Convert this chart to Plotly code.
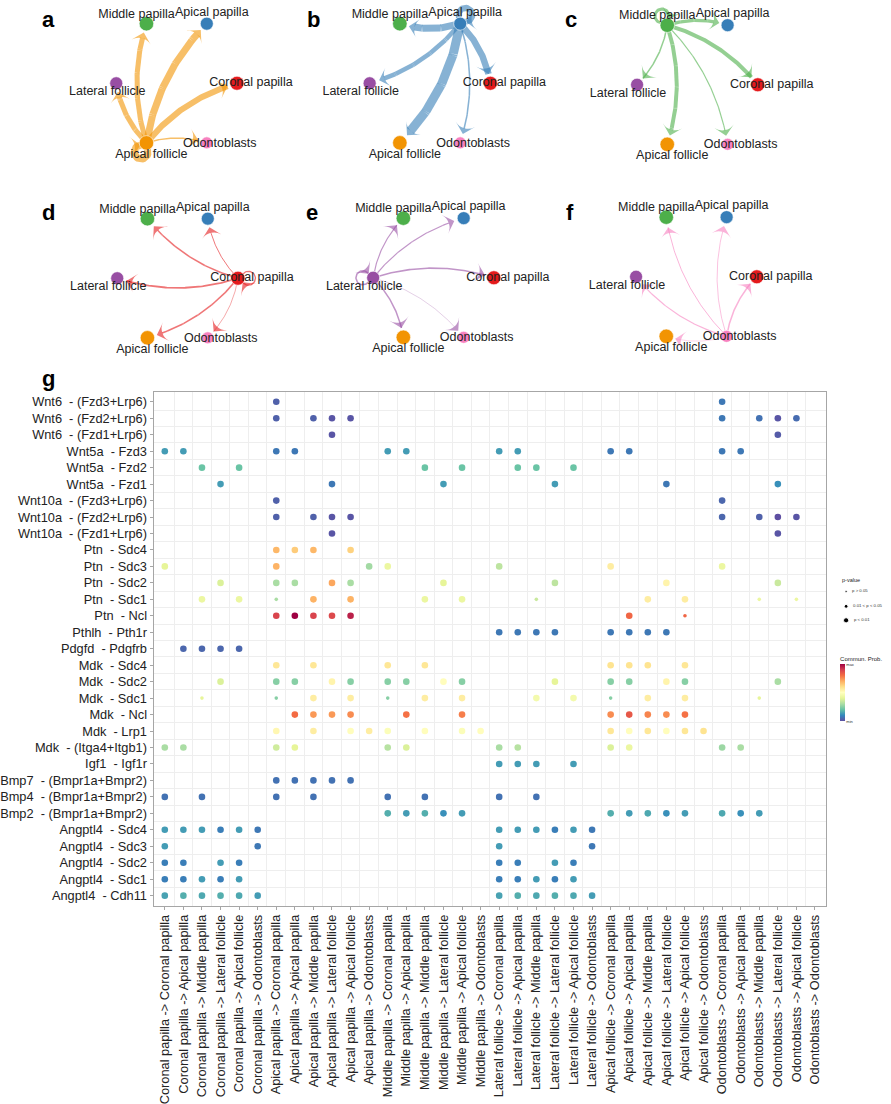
import math
import plotly.graph_objects as go

W, H = 891, 1104

# ---------------- data ----------------
cell_types = ["Coronal papilla", "Apical papilla", "Middle papilla",
              "Lateral follicle", "Apical follicle", "Odontoblasts"]

# panels a-f: source cell type and relative communication strength to each target (order = cell_types)
panel_sources = ["Apical follicle", "Apical papilla", "Middle papilla",
                 "Coronal papilla", "Lateral follicle", "Odontoblasts"]
strength_a = [0.67, 0.78, 0.56, 0.56, 0.78, 0.15]
strength_b = [0.72, 0.67, 0.78, 0.50, 1.00, 0.17]
strength_c = [0.44, 0.37, 0.33, 0.17, 0.44, 0.13]
strength_d = [0.15, 0.11, 0.17, 0.20, 0.17, 0.07]
strength_e = [0.17, 0.13, 0.13, 0.17, 0.17, 0.05]
strength_f = [0.17, 0.09, 0.11, 0.13, 0.06, 0.0]
panel_strengths = [strength_a, strength_b, strength_c, strength_d, strength_e, strength_f]

# panel g: ligand-receptor pairs (rows, top to bottom)
lr_pairs = ["Wnt6  - (Fzd3+Lrp6)", "Wnt6  - (Fzd2+Lrp6)", "Wnt6  - (Fzd1+Lrp6)",
            "Wnt5a  - Fzd3", "Wnt5a  - Fzd2", "Wnt5a  - Fzd1",
            "Wnt10a  - (Fzd3+Lrp6)", "Wnt10a  - (Fzd2+Lrp6)", "Wnt10a  - (Fzd1+Lrp6)",
            "Ptn  - Sdc4", "Ptn  - Sdc3", "Ptn  - Sdc2", "Ptn  - Sdc1", "Ptn  - Ncl",
            "Pthlh  - Pth1r", "Pdgfd  - Pdgfrb",
            "Mdk  - Sdc4", "Mdk  - Sdc2", "Mdk  - Sdc1", "Mdk  - Ncl", "Mdk  - Lrp1",
            "Mdk  - (Itga4+Itgb1)", "Igf1  - Igf1r",
            "Bmp7  - (Bmpr1a+Bmpr2)", "Bmp4  - (Bmpr1a+Bmpr2)", "Bmp2  - (Bmpr1a+Bmpr2)",
            "Angptl4  - Sdc4", "Angptl4  - Sdc3", "Angptl4  - Sdc2", "Angptl4  - Sdc1",
            "Angptl4  - Cdh11"]

# columns: source -> target pairs
pair_labels = [f"{s} -> {t}" for s in cell_types for t in cell_types]

# per row: column indices with a significant interaction and the communication probability (0-1 scaled)
dot_cols = [
    [6, 30],
    [6, 8, 9, 10, 30, 32, 33, 34],
    [9, 33],
    [0, 1, 6, 7, 12, 13, 18, 19, 24, 25, 30, 31],
    [2, 4, 14, 16, 19, 20, 22],
    [3, 9, 15, 21, 27, 33],
    [6, 30],
    [6, 8, 9, 10, 30, 32, 33, 34],
    [9, 33],
    [6, 7, 8, 10],
    [0, 6, 11, 12, 18, 24, 30],
    [3, 6, 7, 9, 10, 15, 21, 27, 33],
    [2, 4, 6, 8, 10, 14, 16, 20, 26, 28, 32, 34],
    [6, 7, 8, 9, 10, 25, 28],
    [18, 19, 20, 21, 24, 25, 26, 27],
    [1, 2, 3, 4],
    [6, 8, 12, 14, 24, 25, 26, 28],
    [3, 6, 7, 9, 10, 12, 13, 15, 16, 21, 24, 25, 27, 28, 33],
    [2, 6, 8, 10, 12, 14, 16, 20, 22, 24, 26, 28, 32],
    [7, 8, 9, 10, 13, 16, 24, 25, 26, 27, 28],
    [6, 8, 10, 11, 12, 14, 16, 17, 24, 25, 26, 27, 28, 29],
    [0, 1, 6, 7, 12, 13, 18, 19, 24, 25, 30, 31],
    [18, 19, 20, 22],
    [6, 7, 8, 9, 10],
    [0, 2, 6, 8, 12, 14, 18, 20],
    [12, 13, 14, 15, 16, 24, 25, 26, 27, 28, 30, 31, 32],
    [0, 1, 2, 3, 4, 5, 18, 19, 20, 21, 22, 23],
    [0, 5, 18, 23],
    [0, 1, 3, 4, 18, 19, 21, 22],
    [0, 1, 2, 3, 4, 18, 19, 20, 21, 22],
    [0, 1, 2, 3, 4, 5, 18, 19, 20, 21, 22, 23],
]
dot_prob = [
    [0.04, 0.08],
    [0.04, 0.04, 0.02, 0.02, 0.08, 0.07, 0.02, 0.06],
    [0.02, 0.03],
    [0.14, 0.14, 0.08, 0.08, 0.14, 0.14, 0.14, 0.14, 0.08, 0.08, 0.08, 0.08],
    [0.21, 0.21, 0.21, 0.21, 0.21, 0.21, 0.21],
    [0.14, 0.08, 0.14, 0.14, 0.08, 0.12],
    [0.04, 0.05],
    [0.04, 0.04, 0.02, 0.02, 0.05, 0.04, 0.01, 0.02],
    [0.02, 0.02],
    [0.67, 0.63, 0.67, 0.62],
    [0.40, 0.68, 0.29, 0.42, 0.33, 0.55, 0.42],
    [0.38, 0.30, 0.30, 0.70, 0.30, 0.40, 0.33, 0.53, 0.35],
    [0.42, 0.42, 0.30, 0.68, 0.68, 0.42, 0.42, 0.35, 0.55, 0.55, 0.42, 0.42],
    [0.87, 0.98, 0.87, 0.86, 0.93, 0.80, 0.80],
    [0.08, 0.08, 0.08, 0.08, 0.08, 0.08, 0.08, 0.08],
    [0.05, 0.05, 0.05, 0.05],
    [0.57, 0.57, 0.57, 0.57, 0.58, 0.58, 0.58, 0.57],
    [0.38, 0.25, 0.25, 0.53, 0.25, 0.25, 0.25, 0.50, 0.25, 0.40, 0.25, 0.25, 0.53, 0.25, 0.30],
    [0.40, 0.25, 0.55, 0.55, 0.25, 0.55, 0.55, 0.45, 0.45, 0.25, 0.55, 0.55, 0.40],
    [0.79, 0.72, 0.72, 0.74, 0.78, 0.76, 0.74, 0.83, 0.75, 0.74, 0.78],
    [0.52, 0.55, 0.50, 0.55, 0.48, 0.50, 0.48, 0.50, 0.57, 0.50, 0.57, 0.50, 0.57, 0.58],
    [0.30, 0.30, 0.36, 0.40, 0.32, 0.38, 0.30, 0.32, 0.38, 0.42, 0.28, 0.30],
    [0.14, 0.14, 0.14, 0.14],
    [0.07, 0.07, 0.07, 0.07, 0.07],
    [0.07, 0.07, 0.07, 0.07, 0.07, 0.07, 0.07, 0.07],
    [0.17, 0.14, 0.17, 0.12, 0.14, 0.17, 0.14, 0.16, 0.12, 0.14, 0.16, 0.12, 0.14],
    [0.14, 0.14, 0.14, 0.09, 0.14, 0.08, 0.14, 0.14, 0.14, 0.09, 0.14, 0.08],
    [0.14, 0.08, 0.14, 0.08],
    [0.09, 0.09, 0.14, 0.09, 0.09, 0.09, 0.14, 0.09],
    [0.09, 0.09, 0.14, 0.09, 0.14, 0.09, 0.09, 0.14, 0.09, 0.14],
    [0.15, 0.17, 0.16, 0.17, 0.16, 0.14, 0.15, 0.17, 0.16, 0.17, 0.16, 0.14],
]
# (row, column) with 0.01 < p < 0.05 ; all other dots p < 0.01
mid_p_dots = [(12, 6), (12, 20), (12, 32), (12, 34), (13, 28),
              (18, 2), (18, 6), (18, 12), (18, 24), (18, 32)]
pval_labels = ["p > 0.05", "0.01 < p < 0.05", "p < 0.01"]

# ---------------- style ----------------
FONT = "Liberation Sans, Arial, sans-serif"
NODE_COLORS = ["#E41A1C", "#377EB8", "#4DAF4A", "#984EA3", "#F29403", "#F781BF"]
NODE_SIZE = [14, 13, 14.5, 13, 14.5, 12]
NODE_ANGLE = [0, 60, 120, 180, 240, 300]
LABEL_OFF = [(14, 0), (5, -11), (-10, -9), (-9, 9), (5, 12), (13, 1)]
PANEL_CENTER = [(175, 83.5), (429, 83.5), (697, 85), (176, 279), (432.5, 278.5), (696, 277.5)]
LETTER_POS = [(47, 20, "a"), (312, 20, "b"), (570, 20, "c"),
              (47, 213, "d"), (311, 213, "e"), (569, 213, "f"), (47, 380, "g")]
RX, RY = 60.5, 69
MAX_W = 9.0
ARROW = 14
CURVE = 0.16
NET_H = 360

SPECTRAL_R = ["#5E4FA2", "#3288BD", "#66C2A5", "#ABDDA4", "#E6F598", "#FFFFBF",
              "#FEE08B", "#FDAE61", "#F46D43", "#D53E4F", "#9E0142"]
colorscale = [[i / 10, c] for i, c in enumerate(SPECTRAL_R)]


def rgba(hexc, a):
    h = hexc.lstrip("#")
    return f"rgba({int(h[0:2],16)},{int(h[2:4],16)},{int(h[4:6],16)},{a})"


def curve_points(p0, p1, trim):
    dx, dy = p1[0] - p0[0], p1[1] - p0[1]
    cx = (p0[0] + p1[0]) / 2 + CURVE * dy
    cy = (p0[1] + p1[1]) / 2 - CURVE * dx
    pts = []
    n = 80
    for i in range(n + 1):
        t = i / n
        x = (1 - t) ** 2 * p0[0] + 2 * (1 - t) * t * cx + t * t * p1[0]
        y = (1 - t) ** 2 * p0[1] + 2 * (1 - t) * t * cy + t * t * p1[1]
        if math.hypot(x - p1[0], y - p1[1]) < trim:
            break
        pts.append((x, y))
    return pts


def loop_points(c, ang, rnode, rl=7.0):
    ux, uy = math.cos(math.radians(ang)), -math.sin(math.radians(ang))
    d = rnode * 0.5 + rl
    lc = (c[0] + ux * d, c[1] + uy * d)
    base = math.atan2(-uy, -ux)
    pts = []
    for i in range(41):
        phi = base + math.radians(35 + 290 * i / 40)
        pts.append((lc[0] + rl * math.cos(phi), lc[1] + rl * math.sin(phi)))
    return pts


fig = go.Figure()

# ---------------- network panels a-f ----------------
for p, (src, strengths) in enumerate(zip(panel_sources, panel_strengths)):
    cx, cy = PANEL_CENTER[p]
    pos = [(cx + RX * math.cos(math.radians(a)), cy - RY * math.sin(math.radians(a)))
           for a in NODE_ANGLE]
    s = cell_types.index(src)
    col = rgba(NODE_COLORS[s], 0.6)
    for t, w in enumerate(strengths):
        if w <= 0:
            continue
        lw = max(w * MAX_W, 0.4)
        if t == s:
            pts = loop_points(pos[s], NODE_ANGLE[s], NODE_SIZE[s] / 2)
        else:
            pts = curve_points(pos[s], pos[t], NODE_SIZE[t] / 2 + 2)
        xs = [q[0] for q in pts]
        ys = [q[1] for q in pts]
        fig.add_trace(go.Scatter(
            x=xs, y=ys, mode="lines+markers", xaxis="x", yaxis="y",
            line=dict(color=col, width=lw),
            marker=dict(symbol="arrow-wide", angleref="previous", color=col, opacity=1,
                        size=[0] * (len(xs) - 1) + [ARROW], line=dict(width=0)),
            hoverinfo="skip", showlegend=False))
    fig.add_trace(go.Scatter(
        x=[q[0] for q in pos], y=[q[1] for q in pos], mode="markers",
        xaxis="x", yaxis="y",
        marker=dict(color=NODE_COLORS, size=NODE_SIZE, opacity=1,
                    line=dict(width=0.6, color="white")),
        hovertext=cell_types, hoverinfo="text", showlegend=False))
    fig.add_trace(go.Scatter(
        x=[q[0] + o[0] for q, o in zip(pos, LABEL_OFF)],
        y=[q[1] + o[1] for q, o in zip(pos, LABEL_OFF)],
        mode="text", text=cell_types, xaxis="x", yaxis="y",
        textfont=dict(family=FONT, size=12.5, color="#222222"),
        hoverinfo="skip", showlegend=False))

# ---------------- dot plot g ----------------
gx, gy, gc, gs = [], [], [], []
for r, (cols, probs) in enumerate(zip(dot_cols, dot_prob)):
    for c, v in zip(cols, probs):
        gx.append(c)
        gy.append(r)
        gc.append(v)
        gs.append(3.6 if (r, c) in mid_p_dots else 6.6)

pmin, pmax = min(gc), max(gc)
fig.add_trace(go.Scatter(
    x=gx, y=gy, mode="markers", xaxis="x2", yaxis="y2",
    marker=dict(size=gs, color=gc, colorscale=colorscale, cmin=pmin, cmax=pmax,
                opacity=1, line=dict(width=0),
                colorbar=dict(
                    x=840 / W, xanchor="left", y=1 - 655 / H, yanchor="top",
                    len=68, lenmode="pixels", thickness=5, outlinewidth=0,
                    tickvals=[pmin, pmax], ticktext=["min", "max"], ticks="",
                    tickfont=dict(size=4, family=FONT, color="#333"),
                    title=dict(text="Commun. Prob.", side="top",
                               font=dict(size=6, family=FONT, color="#222")),
                    xpad=0, ypad=0)),
    hoverinfo="skip", showlegend=False))

# p-value legend
leg_y = [593, 608, 622]
fig.add_trace(go.Scatter(
    x=[846, 846, 846], y=leg_y, mode="markers+text", xaxis="x3", yaxis="y3",
    marker=dict(size=[2.2, 3.8, 5.2], color="black", opacity=1),
    text=["   " + t for t in pval_labels], textposition="middle right",
    textfont=dict(size=4.3, family=FONT, color="#333"),
    hoverinfo="skip", showlegend=False, cliponaxis=False))

annotations = []
for (lx, ly, t) in LETTER_POS:
    annotations.append(dict(x=lx / W, y=1 - ly / H, xref="paper", yref="paper",
                            text=f"<b>{t}</b>", showarrow=False,
                            font=dict(size=22, family=FONT, color="black"),
                            xanchor="center", yanchor="middle"))
annotations.append(dict(x=840 / W, y=1 - 582 / H, xref="paper", yref="paper",
                        text="p-value", showarrow=False, xanchor="left", yanchor="middle",
                        font=dict(size=5.5, family=FONT, color="#222")))

tick_font = dict(family=FONT, size=12.8, color="#222222")
fig.update_layout(
    width=W, height=H, margin=dict(l=0, r=0, t=0, b=0),
    paper_bgcolor="white", plot_bgcolor="white",
    xaxis=dict(domain=[0, 1], range=[0, W], visible=False, fixedrange=True),
    yaxis=dict(domain=[1 - NET_H / H, 1], range=[NET_H, 0], visible=False, fixedrange=True),
    xaxis2=dict(domain=[152 / W, 826 / W], range=[-0.6, 35.6], anchor="y2",
                tickmode="array", tickvals=list(range(len(pair_labels))), ticktext=pair_labels,
                tickangle=-90, tickfont=tick_font, showgrid=False, zeroline=False,
                showline=True, mirror=True, linecolor="#a6a6a6", linewidth=1.2,
                ticks="outside", ticklen=3, tickcolor="#a6a6a6", tickwidth=0.8,
                minor=dict(tickmode="array", tickvals=[i + 0.5 for i in range(35)],
                           showgrid=True, gridcolor="#eeeeee", gridwidth=0.6, ticks="")),
    yaxis2=dict(domain=[1 - 908 / H, 1 - 393 / H], range=[30.6, -0.6], anchor="x2",
                tickmode="array", tickvals=list(range(len(lr_pairs))),
                ticktext=[t.replace("  ", "\u00a0\u00a0") for t in lr_pairs],
                tickfont=tick_font, showgrid=False, zeroline=False,
                showline=True, mirror=True, linecolor="#a6a6a6", linewidth=1.2,
                ticks="outside", ticklen=3, tickcolor="#a6a6a6", tickwidth=0.8,
                minor=dict(tickmode="array", tickvals=[i + 0.5 for i in range(30)],
                           showgrid=True, gridcolor="#eeeeee", gridwidth=0.6, ticks="")),
    xaxis3=dict(domain=[836 / W, 1], range=[836, W], visible=False, anchor="y3"),
    yaxis3=dict(domain=[1 - 632 / H, 1 - 586 / H], range=[632, 586], visible=False, anchor="x3"),
    annotations=annotations,
    font=dict(family=FONT),
)

fig.write_html("out.html", config={"displayModeBar": False},
               post_script="document.body.style.margin='0';")
